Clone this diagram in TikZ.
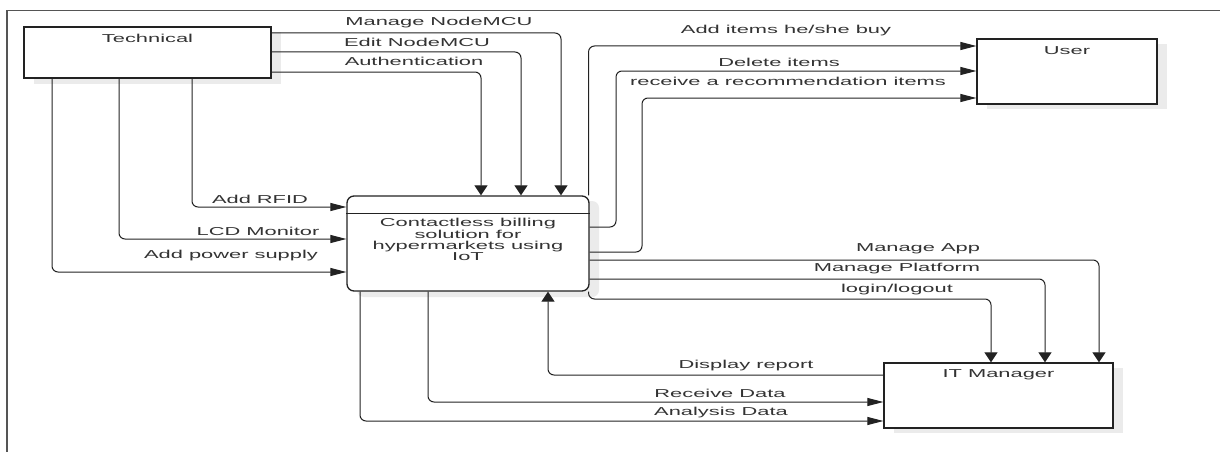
\documentclass[tikz,border=0pt]{standalone}
\usepackage{fontspec}
\setmainfont{Liberation Sans}
\usepackage{graphicx}
\usetikzlibrary{arrows.meta}
\definecolor{txt}{HTML}{333333}
\definecolor{ln}{HTML}{222222}
\definecolor{shd}{HTML}{EBEBEB}
\definecolor{frm}{HTML}{555555}
\newcommand{\sx}[1]{\scalebox{1.9}[1]{#1}}
\begin{document}
\begin{tikzpicture}[x=1pt,y=-1pt,
  lbl/.style={text=txt, font=\fontsize{11.5}{12}\selectfont, inner sep=0pt},
  boxst/.style={draw=ln, line width=1.3pt, fill=white, inner sep=0pt},
  conn/.style={draw=ln, line width=1pt, rounded corners=6pt},
  ha/.style={-{Triangle[length=16pt,width=8pt]}},
  va/.style={-{Triangle[length=10pt,width=13pt]}},
  frame/.style={draw=frm, line width=1.2pt}
]
\useasboundingbox (0,0) rectangle (1220,452);
\fill[white] (0,0) rectangle (1220,452);
\draw[frame] (7,452) -- (7,10.7) -- (1220,10.7);

% shadows
\fill[shd] (34,32) rectangle (281,84);
\fill[shd, rounded corners=7pt] (357,201) rectangle (599,297);
\fill[shd] (987,44) rectangle (1167,109);
\fill[shd] (894,368) rectangle (1123,433);

% boxes
\node[boxst, minimum width=247pt, minimum height=51pt] (tech) at (147.5,52.5) {};
\node[lbl] (techL) at (147.5,38) {\sx{Technical}};
\node[boxst, rounded corners=7pt, minimum width=242pt, minimum height=95pt] (proc) at (468,243.5) {};
\coordinate (pl) at (0,213);
\draw[ln, line width=1pt] (proc.west |- pl) -- (proc.east |- pl);
\node[lbl, align=center, font=\fontsize{11.5}{10.3}\selectfont] (procL) at (468,241)
  {\sx{\begin{tabular}{@{}c@{}}Contactless billing\\solution for\\hypermarkets using\\IoT\end{tabular}}};
\node[boxst, minimum width=180pt, minimum height=65pt] (user) at (1067,71.5) {};
\node[lbl] (userL) at (1067,51) {\sx{User}};
\node[boxst, minimum width=229pt, minimum height=65pt] (itm) at (998.5,395.5) {};
\node[lbl] (itmL) at (998.5,375) {\sx{IT Manager}};

% bend coordinates
\coordinate (b1) at (561,33);
\coordinate (b2) at (521,52);
\coordinate (b3) at (481,72);
\coordinate (b4) at (192,207);
\coordinate (b5) at (119,239);
\coordinate (b6) at (52,272);
\coordinate (b7) at (588.5,46);
\coordinate (d1) at (616,227);
\coordinate (d2) at (616,71);
\coordinate (r1) at (642,252);
\coordinate (r2) at (642,98);
\coordinate (a1) at (1099,260);
\coordinate (p1) at (1045,279);
\coordinate (l1) at (588.5,299);
\coordinate (l2) at (991,299);
\coordinate (dr) at (548,375);
\coordinate (rc) at (428,402);
\coordinate (an) at (360,421);

% connectors
\draw[conn,va] (tech.east |- b1) -| (proc.north -| b1);
\draw[conn,va] (tech.east |- b2) -| (proc.north -| b2);
\draw[conn,va] (tech.east |- b3) -| (proc.north -| b3);
\draw[conn,ha] (tech.south -| b4) |- (proc.west |- b4);
\draw[conn,ha] (tech.south -| b5) |- (proc.west |- b5);
\draw[conn,ha] (tech.south -| b6) |- (proc.west |- b6);
\draw[conn,ha] (proc.north -| b7) |- (user.west |- b7);
\draw[conn,ha] (proc.east |- d1) -- (d1) -- (d2) -- (user.west |- d2);
\draw[conn,ha] (proc.east |- r1) -- (r1) -- (r2) -- (user.west |- r2);
\draw[conn,va] (proc.east |- a1) -| (itm.north -| a1);
\draw[conn,va] (proc.east |- p1) -| (itm.north -| p1);
\draw[conn,va] (proc.south -| l1) -- (l1) -| (itm.north -| l2);
\draw[conn,va] (itm.west |- dr) -| (proc.south -| dr);
\draw[conn,ha] (proc.south -| rc) |- (itm.west |- rc);
\draw[conn,ha] (proc.south -| an) |- (itm.west |- an);

% labels
\node[lbl] (t1) at (439,23) {\sx{Manage NodeMCU}};
\node[lbl] (t2) at (417,42) {\sx{Edit NodeMCU}};
\node[lbl] (t3) at (414,61) {\sx{Authentication}};
\node[lbl] (t4) at (260,199) {\sx{Add RFID}};
\node[lbl] (t5) at (258,231) {\sx{LCD Monitor}};
\node[lbl] (t6) at (231,256) {\sx{Add power supply}};
\node[lbl] (t7) at (786,31) {\sx{Add items he/she buy}};
\node[lbl] (t8) at (779,62) {\sx{Delete items}};
\node[lbl] (t9) at (788,81) {\sx{receive a recommendation items}};
\node[lbl] (t10) at (918,249) {\sx{Manage App}};
\node[lbl] (t11) at (897,269) {\sx{Manage Platform}};
\node[lbl] (t12) at (897,290) {\sx{login/logout}};
\node[lbl] (t13) at (746,366) {\sx{Display report}};
\node[lbl] (t14) at (720,393) {\sx{Receive Data}};
\node[lbl] (t15) at (721,413) {\sx{Analysis Data}};
\end{tikzpicture}
\end{document}
